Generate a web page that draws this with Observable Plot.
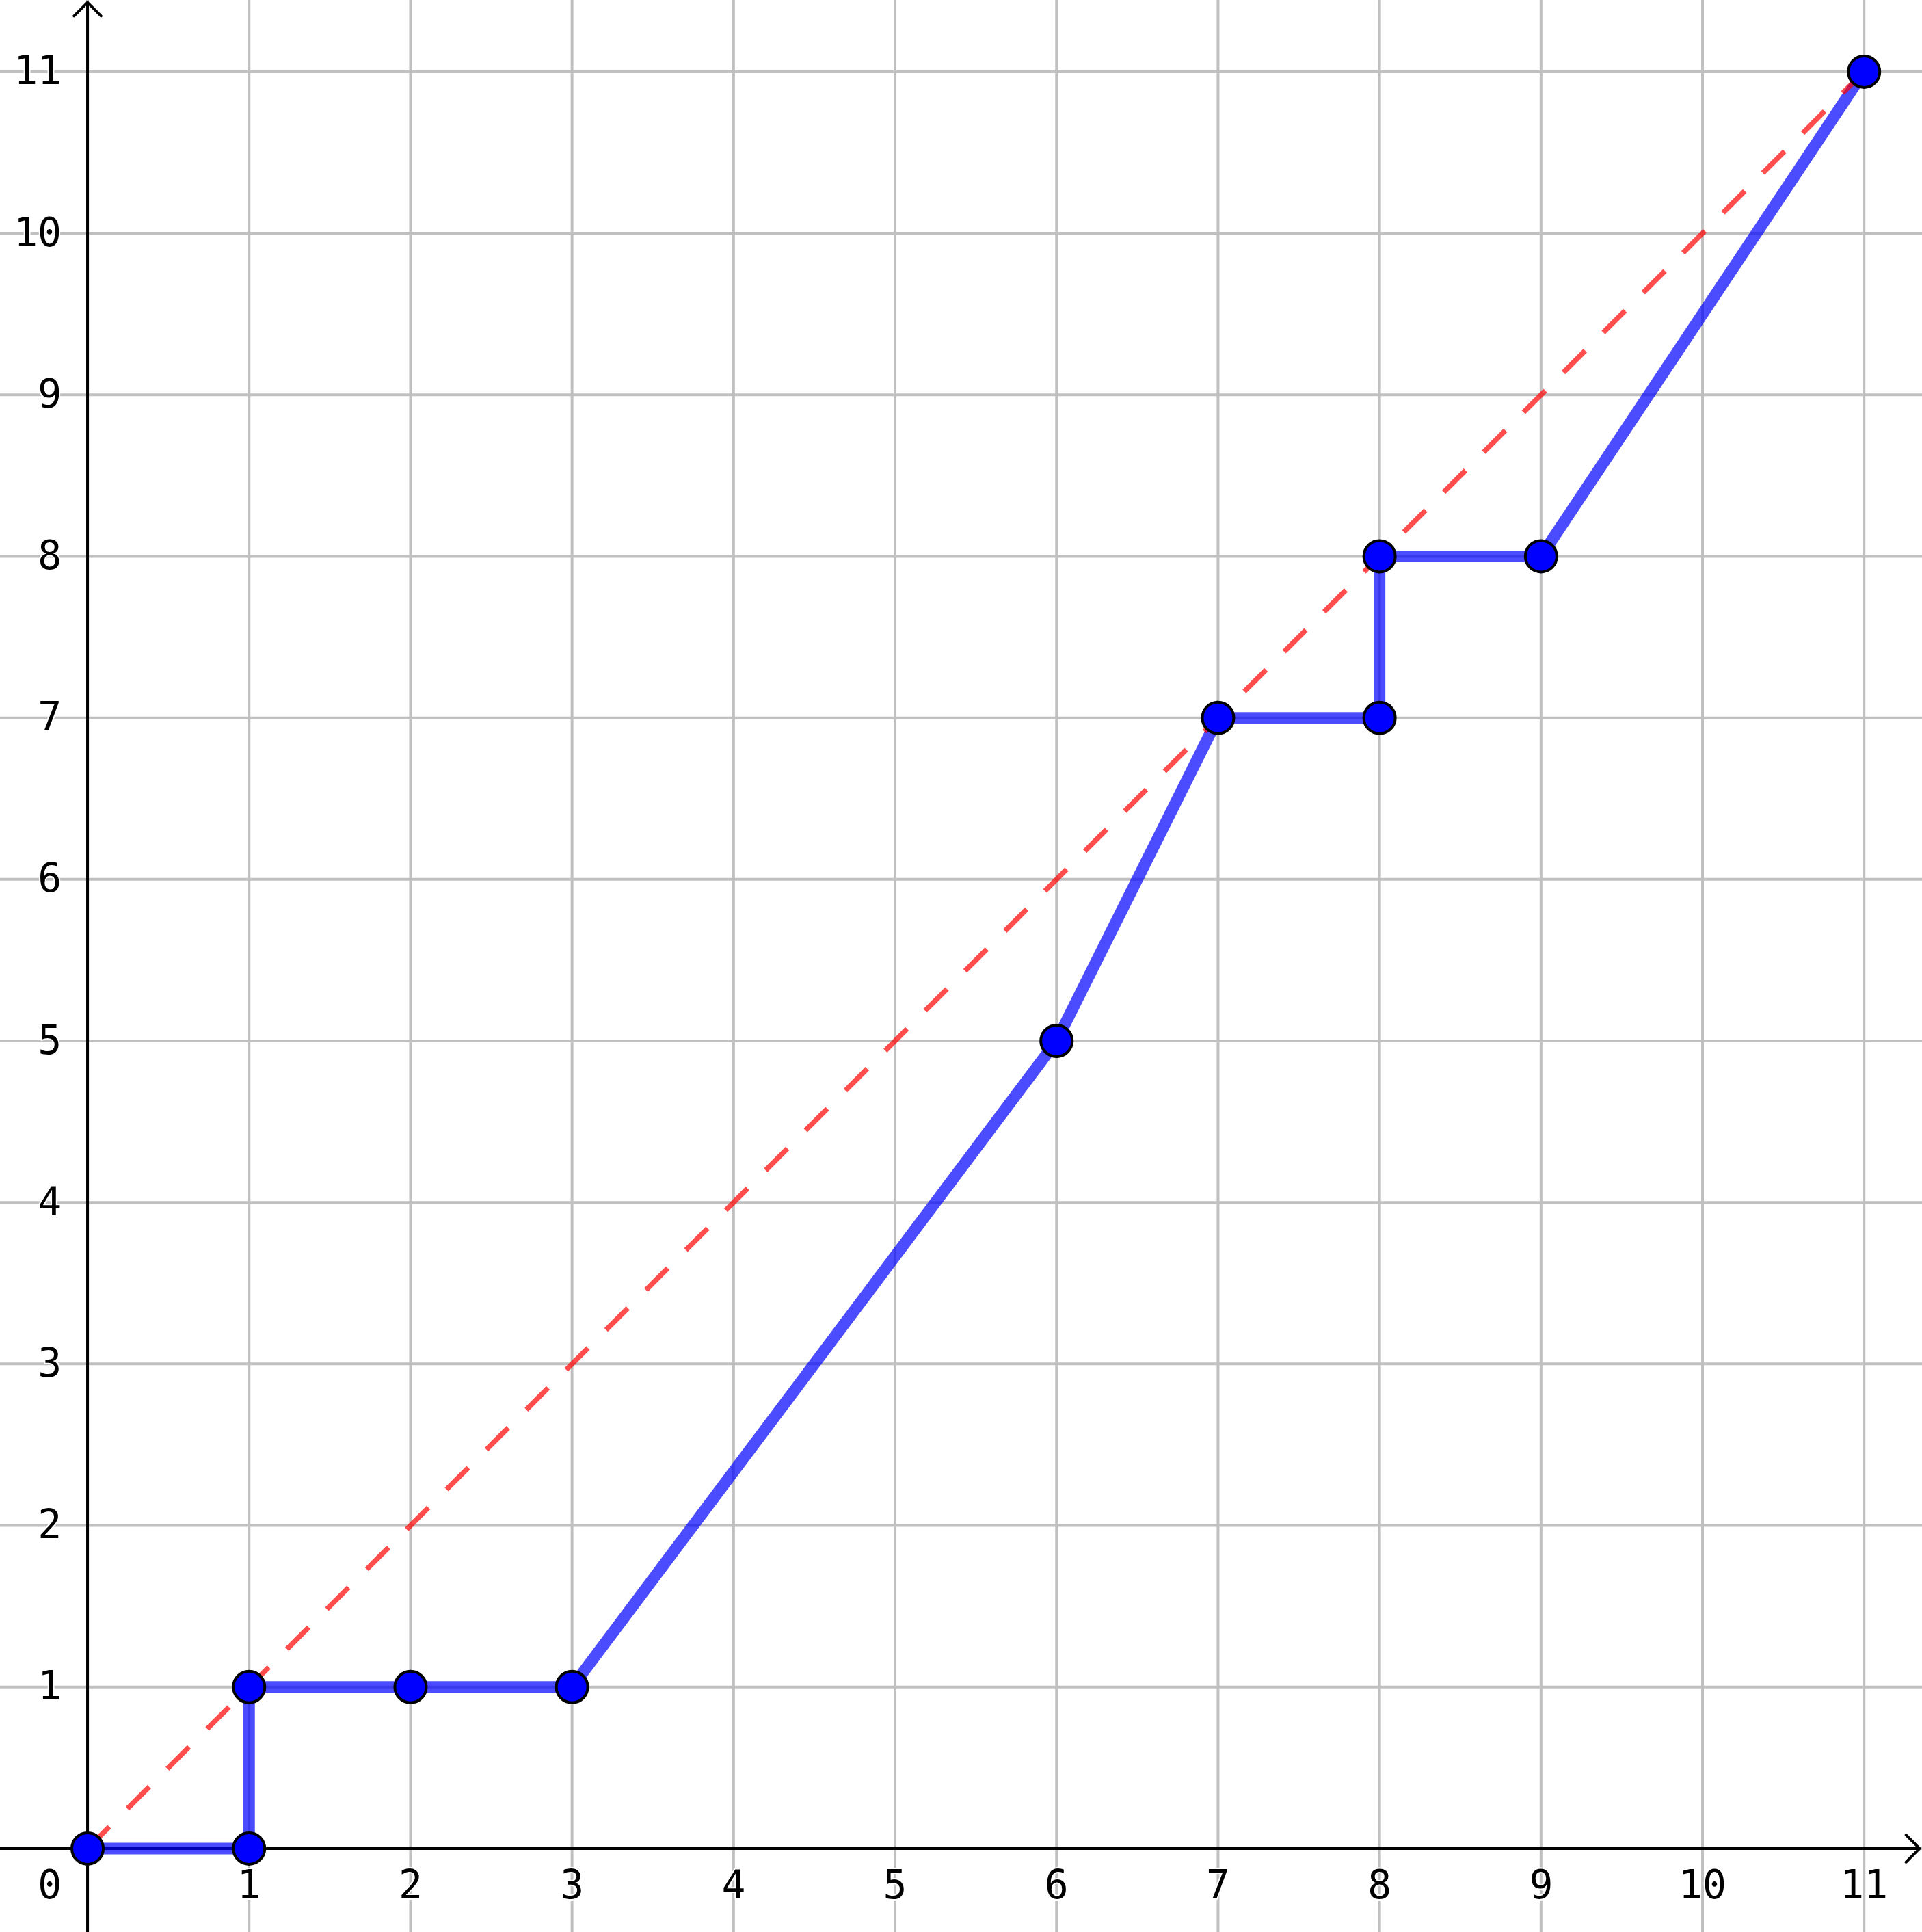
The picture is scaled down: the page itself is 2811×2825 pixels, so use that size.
<!DOCTYPE html>
<html>
<head>
<meta charset="utf-8">
<script src="https://cdn.jsdelivr.net/npm/d3@7"></script>
<script src="https://cdn.jsdelivr.net/npm/@observablehq/plot@0.6"></script>
<style>
  html, body { margin: 0; padding: 0; background: #fff; overflow: hidden; }
</style>
</head>
<body>
<div id="chart"></div>
<script>
// Data points of the step/path (x, y)
const px = [0, 1, 1, 2, 3, 6, 7, 8, 8, 9, 11];
const py = [0, 0, 1, 1, 1, 5, 7, 7, 8, 8, 11];
// Diagonal reference line endpoints
const diagonal = [0, 11];
// Tick values
const xTicks = [1, 2, 3, 4, 5, 6, 7, 8, 9, 10, 11];
const yTicks = [1, 2, 3, 4, 5, 6, 7, 8, 9, 10, 11];
const gridTicks = [0, 1, 2, 3, 4, 5, 6, 7, 8, 9, 10, 11];

const W = 2811, H = 2825;
const xDomain = [-0.54, 11.361];
const yDomain = [-0.519, 11.442];

const points = px.map((x, i) => ({x, y: py[i]}));
const diag = diagonal.map(v => ({x: v, y: v}));

const font = "DejaVu Sans Mono";
const labelStyle = {fontFamily: font, fontSize: 58, fill: "black", stroke: "white", strokeWidth: 4};

const chart = Plot.plot({
  width: W,
  height: H,
  margin: 0,
  style: {background: "#fff"},
  x: {domain: xDomain, axis: null},
  y: {domain: yDomain, axis: null},
  marks: [
    // grid
    Plot.ruleX(gridTicks, {stroke: "#c0c0c0", strokeWidth: 4}),
    Plot.ruleY(gridTicks, {stroke: "#c0c0c0", strokeWidth: 4}),
    // tick labels with thin white halo
    Plot.text(xTicks, {x: d => d, y: 0, text: d => String(d), dy: 55, textAnchor: "middle", ...labelStyle}),
    Plot.text(yTicks, {x: 0, y: d => d, text: d => String(d), dx: -38, textAnchor: "end", ...labelStyle}),
    Plot.text([0], {x: 0, y: 0, text: d => String(d), dx: -38, dy: 55, textAnchor: "end", ...labelStyle}),
    // axes with arrows
    Plot.arrow([{x1: xDomain[0], x2: 11.344, y: 0}], {x1: "x1", x2: "x2", y1: "y", y2: "y",
      stroke: "black", strokeWidth: 4, headAngle: 90, headLength: 10.5}),
    Plot.arrow([{y1: yDomain[0], y2: 11.429, x: 0}], {y1: "y1", y2: "y2", x1: "x", x2: "x",
      stroke: "black", strokeWidth: 4, headAngle: 90, headLength: 10.5}),
    // path
    Plot.line(points, {x: "x", y: "y", stroke: "blue", strokeOpacity: 0.7, strokeWidth: 17,
      strokeLinejoin: "miter", strokeLinecap: "butt"}),
    // dashed diagonal
    Plot.line(diag, {x: "x", y: "y", stroke: "red", strokeOpacity: 0.7, strokeWidth: 7.5,
      strokeDasharray: "45,37.5", strokeLinecap: "butt"}),
    // markers
    Plot.dot(points, {x: "x", y: "y", r: 23, fill: "#0000ff", stroke: "black", strokeWidth: 4})
  ]
});
document.getElementById("chart").appendChild(chart);
</script>
</body>
</html>
